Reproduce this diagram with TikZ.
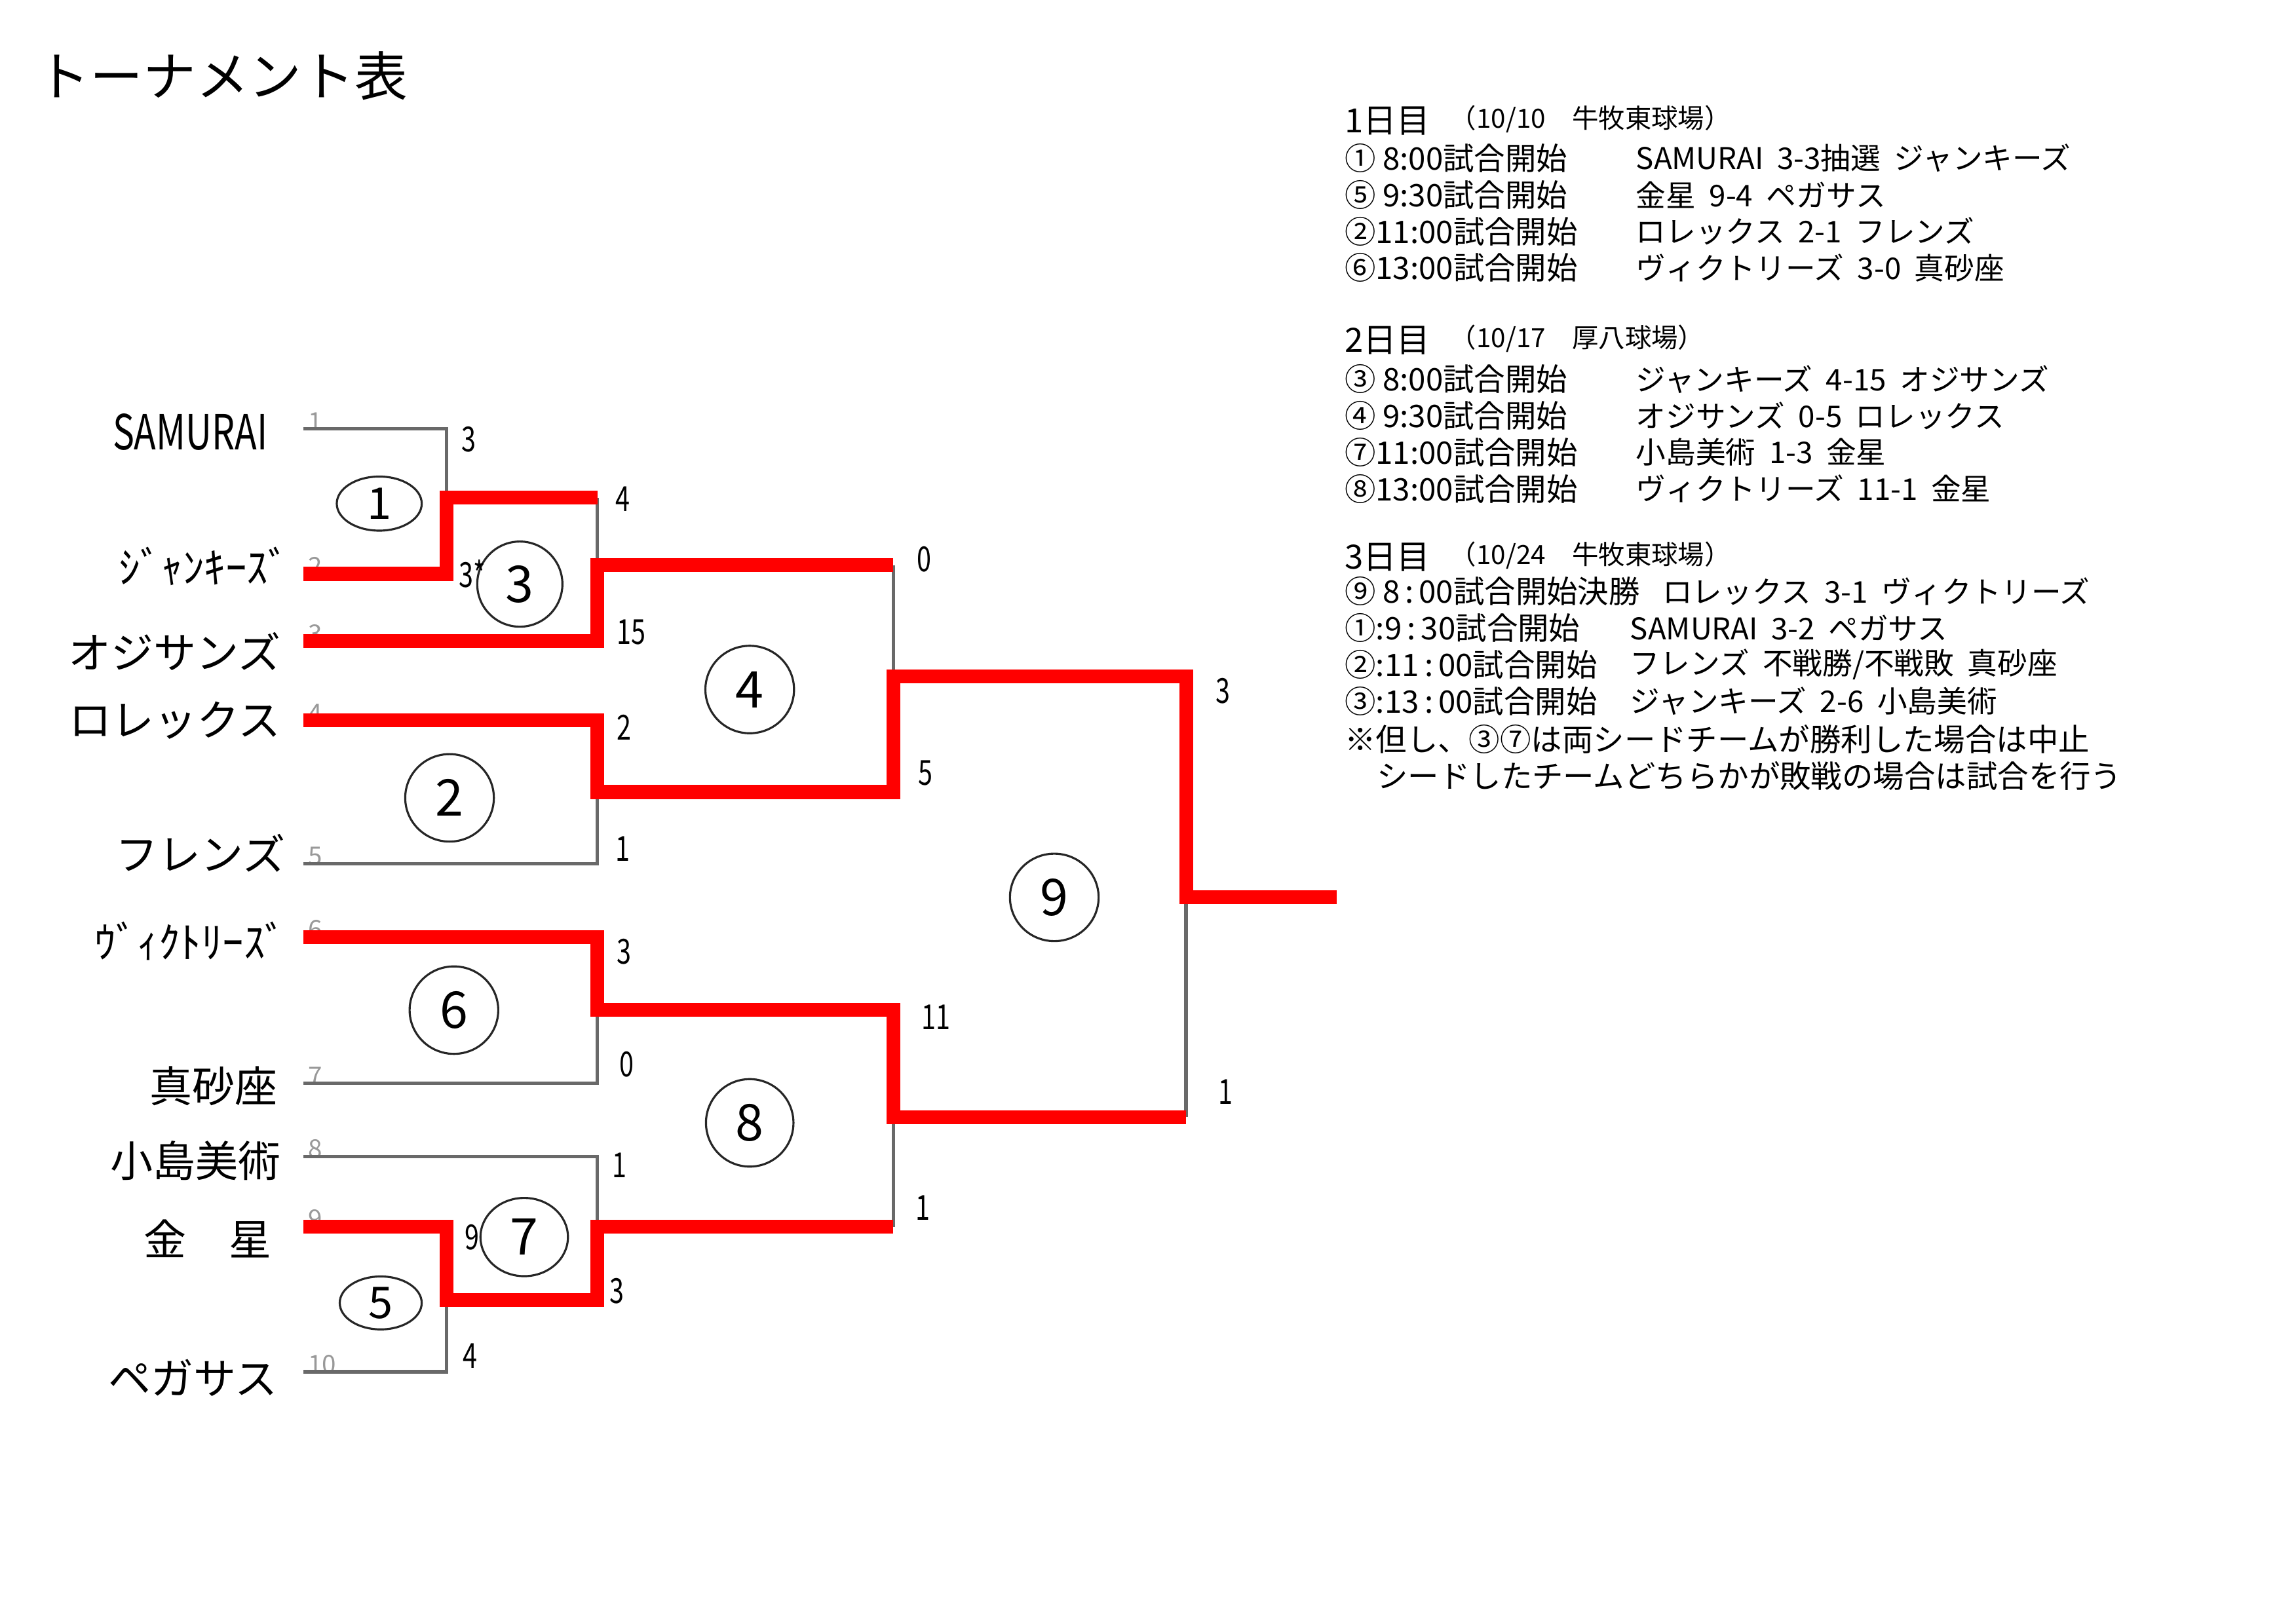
\documentclass[tikz,border=0pt]{standalone}
\usepackage{fontspec}
\usetikzlibrary{shapes.geometric}
\setmainfont{Noto Sans CJK JP}
\newfontfamily\narrowfont[FakeStretch=0.75]{Noto Sans CJK JP}
\definecolor{linegray}{RGB}{105,105,105}
\newcommand{\gap}{\hspace{0.45em}}
\newcommand{\tcolon}{\thinspace:\thinspace}

\begin{document}
\begin{tikzpicture}[x=0.022347cm, y=-0.022347cm,
    loseline/.style = {linegray, line width=1.5pt},
    winline/.style  = {red, line width=6pt},
    team/.style     = {anchor=east, inner sep=0pt, font=\fontsize{18.5}{20}\selectfont},
    score/.style    = {anchor=west, inner sep=0pt, font=\narrowfont\fontsize{15}{16}\selectfont},
    seedno/.style   = {anchor=south west, inner sep=0pt, text=black!40, font=\fontsize{11}{12}\selectfont},
    game/.style     = {draw=black!85, line width=0.9pt, ellipse, inner sep=0pt, font=\fontsize{22}{24}\selectfont},
    sched/.style    = {anchor=west, inner sep=0pt, font=\fontsize{13.5}{15}\selectfont},
    result/.style   = {anchor=west, inner sep=0pt, font=\fontsize{13}{14}\selectfont}]

    \useasboundingbox (0,0) rectangle (1568,1109);

    % title
    \node[anchor=west, inner sep=0pt, font=\fontsize{23}{25}\selectfont] (title) at (25,52) {トーナメント表};

    % teams
    \node[team, font=\narrowfont\fontsize{21}{22}\selectfont] (samurai) at (183,295) {SAMURAI};
    \node[team] (junkies)  at (198,387) {ｼﾞｬﾝｷｰｽﾞ};
    \node[team] (ojisans)  at (192,445) {オジサンズ};
    \node[team] (rolex)    at (192,492) {ロレックス};
    \node[team] (friends)  at (195,583) {フレンズ};
    \node[team] (victory)  at (196,643) {ｳﾞｨｸﾄﾘｰｽﾞ};
    \node[team] (masago)   at (190,742) {真砂座};
    \node[team] (kojima)   at (192,793) {小島美術};
    \node[team] (kinsei)   at (186,846) {金　星};
    \node[team] (pegasus)  at (190,941) {ペガサス};

    % bracket points
    \coordinate (s1)  at (207,293);
    \coordinate (s2)  at (207,392);
    \coordinate (s3)  at (207,438);
    \coordinate (s4)  at (207,492);
    \coordinate (s5)  at (207,590);
    \coordinate (s6)  at (207,640);
    \coordinate (s7)  at (207,740);
    \coordinate (s8)  at (207,790);
    \coordinate (s9)  at (207,838);
    \coordinate (s10) at (207,937);

    \coordinate (j1) at (305,340);  \coordinate (w1) at (408,340);
    \coordinate (j3) at (408,386);  \coordinate (w3) at (610,386);
    \coordinate (j2) at (408,541);  \coordinate (w2) at (610,541);
    \coordinate (j4) at (610,462);  \coordinate (w4) at (810,462);
    \coordinate (j6) at (408,690);  \coordinate (w6) at (610,690);
    \coordinate (j5) at (305,888);  \coordinate (w5) at (408,888);
    \coordinate (j7) at (408,838);  \coordinate (w7) at (610,838);
    \coordinate (j8) at (610,763);  \coordinate (w8) at (810,763);
    \coordinate (j9) at (810,613);  \coordinate (w9) at (913,613);

    % seed numbers
    \node[seedno] (n1)  at ([xshift=2pt,yshift=-1pt]s1)  {1};
    \node[seedno] (n2)  at ([xshift=2pt,yshift=-1pt]s2)  {2};
    \node[seedno] (n3)  at ([xshift=2pt,yshift=-1pt]s3)  {3};
    \node[seedno] (n4)  at ([xshift=2pt,yshift=-1pt]s4)  {4};
    \node[seedno] (n5)  at ([xshift=2pt,yshift=-1pt]s5)  {5};
    \node[seedno] (n6)  at ([xshift=2pt,yshift=-1pt]s6)  {6};
    \node[seedno] (n7)  at ([xshift=2pt,yshift=-1pt]s7)  {7};
    \node[seedno] (n8)  at ([xshift=2pt,yshift=-1pt]s8)  {8};
    \node[seedno] (n9)  at ([xshift=2pt,yshift=-1pt]s9)  {9};
    \node[seedno] (n10) at ([xshift=2pt,yshift=-1pt]s10) {10};

    % losers (gray)
    \draw[loseline] (s1) -| (j1);
    \draw[loseline] (w1) -- (j3);
    \draw[loseline] (s5) -| (j2);
    \draw[loseline] (w3) -- (j4);
    \draw[loseline] (s7) -| (j6);
    \draw[loseline] (s10) -| (j5);
    \draw[loseline] (s8) -| (j7);
    \draw[loseline] (w7) -- (j8);
    \draw[loseline] (w8) -- (j9);

    % winners (red)
    \draw[winline] (s2) -| (j1) -- (w1);
    \draw[winline] (s3) -| (j3) -- (w3);
    \draw[winline] (s4) -| (j2) -- (w2) -- (j4) -- (w4) -- (j9) -- (w9);
    \draw[winline] (s6) -| (j6) -- (w6) -- (j8) -- (w8);
    \draw[winline] (s9) -| (j5) -- (w5) -- (j7) -- (w7);

    % games
    \node[game, minimum width=36.9pt, minimum height=23.5pt, font=\fontsize{19}{20}\selectfont] (g1) at (259,344) {1};
    \node[game, minimum width=37pt, minimum height=37pt] (g3) at (355,399) {3};
    \node[game, minimum width=38.5pt, minimum height=38pt] (g2) at (307,545) {2};
    \node[game, minimum width=38.5pt, minimum height=38pt] (g4) at (512,471) {4};
    \node[game, minimum width=38.5pt, minimum height=38pt] (g6) at (310,690) {6};
    \node[game, minimum width=38.5pt, minimum height=38pt] (g9) at (720,613) {9};
    \node[game, minimum width=38pt, minimum height=38pt] (g8) at (512,767) {8};
    \node[game, minimum width=38pt, minimum height=34pt] (g7) at (358,845) {7};
    \node[game, minimum width=35.6pt, minimum height=23pt, font=\fontsize{19}{20}\selectfont] (g5) at (260,890) {5};

    % scores
    \node[score] (c1a) at (315,300) {3};
    \node[score] (c1b) at (313,392) {3*};
    \node[score] (c3a) at (420,341) {4};
    \node[score] (c3b) at (421,432) {15};
    \node[score] (c2a) at (421,497) {2};
    \node[score] (c2b) at (420,580) {1};
    \node[score] (c4a) at (626,382) {0};
    \node[score] (c4b) at (627,528) {5};
    \node[score] (c6a) at (421,650) {3};
    \node[score] (c6b) at (423,727) {0};
    \node[score] (c8a) at (629,695) {11};
    \node[score] (c8b) at (625,825) {1};
    \node[score] (c7a) at (418,796) {1};
    \node[score] (c7b) at (416,882) {3};
    \node[score] (c5a) at (317,845) {9};
    \node[score] (c5b) at (316,926) {4};
    \node[score] (c9a) at (830,472) {3};
    \node[score] (c9b) at (832,746) {1};

    % schedule, day 1
    \node[sched] (day1) at (918,82) {\fontsize{14.5}{16}\selectfont 1日目\hspace{0.6em}\raisebox{2pt}{\fontsize{11.5}{13}\selectfont （10/10　牛牧東球場）}};
    \node[sched]  (d1a) at (918,108) {① 8:00試合開始};
    \node[result] (r1a) at (1117,108) {SAMURAI\gap 3-3抽選\gap ジャンキーズ};
    \node[sched]  (d1b) at (918,133) {⑤ 9:30試合開始};
    \node[result] (r1b) at (1117,133) {金星\gap 9-4\gap ペガサス};
    \node[sched]  (d1c) at (918,158) {②11:00試合開始};
    \node[result] (r1c) at (1117,158) {ロレックス\gap 2-1\gap フレンズ};
    \node[sched]  (d1d) at (918,183) {⑥13:00試合開始};
    \node[result] (r1d) at (1117,183) {ヴィクトリーズ\gap 3-0\gap 真砂座};

    % day 2
    \node[sched] (day2) at (918,232) {\fontsize{14.5}{16}\selectfont 2日目\hspace{0.6em}\raisebox{2pt}{\fontsize{11.5}{13}\selectfont （10/17　厚八球場）}};
    \node[sched]  (d2a) at (918,259) {③ 8:00試合開始};
    \node[result] (r2a) at (1117,259) {ジャンキーズ\gap 4-15\gap オジサンズ};
    \node[sched]  (d2b) at (918,284) {④ 9:30試合開始};
    \node[result] (r2b) at (1117,284) {オジサンズ\gap 0-5\gap ロレックス};
    \node[sched]  (d2c) at (918,309) {⑦11:00試合開始};
    \node[result] (r2c) at (1117,309) {小島美術\gap 1-3\gap 金星};
    \node[sched]  (d2d) at (918,334) {⑧13:00試合開始};
    \node[result] (r2d) at (1117,334) {ヴィクトリーズ\gap 11-1\gap 金星};

    % day 3
    \node[sched] (day3) at (918,380) {\fontsize{14.5}{16}\selectfont 3日目\hspace{0.6em}\raisebox{2pt}{\fontsize{11.5}{13}\selectfont （10/24　牛牧東球場）}};
    \node[sched]  (d3a) at (918,404) {⑨ 8\tcolon 00試合開始決勝};
    \node[result] (r3a) at (1135,404) {ロレックス\gap 3-1\gap ヴィクトリーズ};
    \node[sched]  (d3b) at (918,429) {①\makebox[4pt][l]{:}9\tcolon 30試合開始};
    \node[result] (r3b) at (1113,429) {SAMURAI\gap 3-2\gap ペガサス};
    \node[sched]  (d3c) at (918,454) {②\makebox[4pt][l]{:}11\tcolon 00試合開始};
    \node[result] (r3c) at (1113,454) {フレンズ\gap 不戦勝/不戦敗\gap 真砂座};
    \node[sched]  (d3d) at (918,479) {③\makebox[4pt][l]{:}13\tcolon 00試合開始};
    \node[result] (r3d) at (1113,479) {ジャンキーズ\gap 2-6\gap 小島美術};

    % note
    \node[sched] (note1) at (918,505) {※但し、③⑦は両シードチームが勝利した場合は中止};
    \node[sched] (note2) at (940,530) {シードしたチームどちらかが敗戦の場合は試合を行う};

\end{tikzpicture}
\end{document}
